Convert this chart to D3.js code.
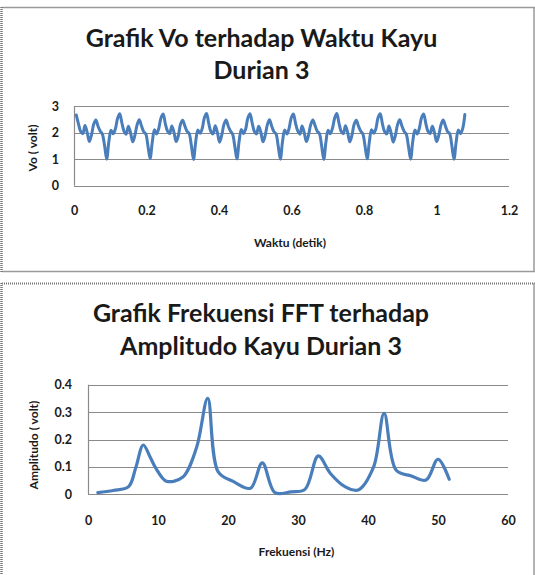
<!DOCTYPE html>
<html>
<head>
<meta charset="utf-8">
<script src="https://cdn.jsdelivr.net/npm/d3@7"></script>
<style>
  html, body { margin: 0; padding: 0; background: #fff; }
  svg { display: block; }
  text { font-family: Lato, "Open Sans", sans-serif; font-weight: bold; fill: #1a1a1a; }
</style>
</head>
<body>
<svg id="chart" width="535" height="575"></svg>
<script>
// ---------- Chart 1 data: Vo vs time ----------
const voStartTime = 0.00637;      // s, time of the first sample
const voSampleInterval = 0.005988; // s, spacing of samples
const voValues = [
  2.66, 2.33, 2.04, 1.96, 2.27, 2.01, 1.66, 1.91, 2.31, 2.47, 2.24, 2.06, 1.94, 1.52,
  1.00, 1.66, 2.09, 1.96, 2.14, 2.53, 2.71, 2.36, 2.05, 1.94, 2.24, 1.99, 1.65, 1.90, 2.29, 2.48, 2.26, 2.04, 1.95, 1.50,
  1.02, 1.64, 2.11, 1.95, 2.16, 2.55, 2.70, 2.34, 2.06, 1.96, 2.25, 2.01, 1.66, 1.88, 2.31, 2.46, 2.25, 2.05, 1.96, 1.51,
  0.99, 1.65, 2.10, 1.97, 2.15, 2.56, 2.72, 2.35, 2.04, 1.95, 2.26, 2.00, 1.64, 1.90, 2.30, 2.47, 2.24, 2.06, 1.94, 1.49,
  1.01, 1.67, 2.12, 1.96, 2.13, 2.54, 2.71, 2.37, 2.05, 1.95, 2.24, 2.02, 1.65, 1.89, 2.29, 2.48, 2.25, 2.04, 1.95, 1.50,
  1.00, 1.66, 2.10, 1.95, 2.15, 2.55, 2.70, 2.35, 2.06, 1.94, 2.25, 2.00, 1.66, 1.91, 2.30, 2.47, 2.26, 2.05, 1.96, 1.51,
  0.99, 1.64, 2.09, 1.96, 2.16, 2.54, 2.72, 2.36, 2.05, 1.96, 2.26, 2.01, 1.65, 1.90, 2.31, 2.46, 2.24, 2.06, 1.95, 1.50,
  1.01, 1.65, 2.11, 1.97, 2.14, 2.56, 2.71, 2.34, 2.04, 1.95, 2.25, 1.99, 1.64, 1.89, 2.30, 2.48, 2.25, 2.05, 1.94, 1.49,
  1.00, 1.66, 2.10, 1.95, 2.15, 2.55, 2.70, 2.35, 2.05, 1.96, 2.24, 2.00, 1.66, 1.90, 2.29, 2.47, 2.26, 2.04, 1.96, 1.51,
  1.00, 1.65, 2.10, 1.96, 2.15, 2.68
];
const voXTicks = [0, 0.2, 0.4, 0.6, 0.8, 1, 1.2];
const voYTicks = [0, 1, 2, 3];
const voTitleLines = ["Grafik Vo terhadap Waktu Kayu", "Durian 3"];
const voXLabel = "Waktu  (detik)";
const voYLabel = "Vo ( volt)";

// ---------- Chart 2 data: FFT amplitude vs frequency ----------
const fftFreq = [1.4, 3.6, 5.8, 6.8, 7.9, 8.8, 9.7, 11.2, 13.5, 15.5, 17.1, 18.6, 20.8, 23.2, 24.9, 26.7, 29.0, 31.0, 32.9, 34.6, 36.7, 38.6, 40.8, 42.3, 44.0, 46.2, 48.3, 50.0, 51.6];
const fftAmp  = [0.006, 0.014, 0.028, 0.095, 0.18, 0.14, 0.095, 0.048, 0.062, 0.17, 0.35, 0.082, 0.046, 0.022, 0.115, 0.006, 0.009, 0.018, 0.14, 0.077, 0.028, 0.016, 0.10, 0.295, 0.089, 0.067, 0.052, 0.128, 0.055];
const fftXTicks = [0, 10, 20, 30, 40, 50, 60];
const fftYTicks = [0, 0.1, 0.2, 0.3, 0.4];
const fftTitleLines = ["Grafik Frekuensi FFT terhadap", "Amplitudo Kayu Durian 3"];
const fftXLabel = "Frekuensi (Hz)";
const fftYLabel = "Amplitudo ( volt)";

const svg = d3.select("#chart");
const lineColor = "#4a7ebb";
const gridColor = "#8a8a8a";
const frameColor = "#9a9a9a";

// ---------- frames ----------
function hline(x1, x2, y, dotted) {
  svg.append("line").attr("x1", x1).attr("x2", x2).attr("y1", y).attr("y2", y)
    .attr("stroke", dotted ? "#777" : frameColor).attr("stroke-width", dotted ? 2 : 1.5)
    .attr("stroke-dasharray", dotted ? "1,1" : null);
}
function vline(x, y1, y2, dotted) {
  svg.append("line").attr("x1", x).attr("x2", x).attr("y1", y1).attr("y2", y2)
    .attr("stroke", dotted ? "#777" : frameColor).attr("stroke-width", dotted ? 2.5 : 1.5)
    .attr("stroke-dasharray", dotted ? "1,1" : null);
}
hline(2, 535, 7.5, false);
hline(2, 535, 271.5, false);
vline(534, 7, 272, false);
vline(1.5, 7, 272, true);
hline(2, 535, 283.5, true);
vline(534, 283, 575, false);
vline(1.5, 283, 575, true);

function drawChart(cfg) {
  const g = svg.append("g");
  const x = d3.scaleLinear().domain(cfg.xDomain).range(cfg.xRange);
  const y = d3.scaleLinear().domain(cfg.yDomain).range(cfg.yRange);

  // gridlines
  g.selectAll(".grid").data(cfg.yTicks).join("line")
    .attr("x1", cfg.xRange[0]).attr("x2", cfg.xRange[1])
    .attr("y1", d => Math.round(y(d)) + 0.5).attr("y2", d => Math.round(y(d)) + 0.5)
    .attr("stroke", gridColor).attr("stroke-width", 1.2);
  // vertical axis line
  g.append("line")
    .attr("x1", Math.round(cfg.xRange[0]) + 0.5).attr("x2", Math.round(cfg.xRange[0]) + 0.5)
    .attr("y1", cfg.yRange[0]).attr("y2", cfg.yRange[1])
    .attr("stroke", gridColor).attr("stroke-width", 1.2);

  // axes (labels only)
  const xAxis = d3.axisBottom(x).tickValues(cfg.xTicks).tickSize(0).tickPadding(0).tickFormat(d => String(d));
  const xa = g.append("g").attr("transform", `translate(0,${cfg.xTickY})`).call(xAxis);
  xa.select(".domain").remove();
  xa.selectAll("text").attr("font-size", cfg.tickSize).attr("dy", "0.35em").attr("y", 0)
    .style("font-family", "Lato, sans-serif").style("font-weight", "bold").attr("fill", "#1a1a1a");

  const yAxis = d3.axisLeft(y).tickValues(cfg.yTicks).tickSize(0).tickPadding(0).tickFormat(d => String(d));
  const ya = g.append("g").attr("transform", `translate(${cfg.yTickX},0)`).call(yAxis);
  ya.select(".domain").remove();
  ya.selectAll("text").attr("font-size", cfg.tickSize).attr("x", 0)
    .style("font-family", "Lato, sans-serif").style("font-weight", "bold").attr("fill", "#1a1a1a");

  // titles
  cfg.title.forEach((t, i) => {
    g.append("text").attr("x", cfg.titleX).attr("y", cfg.titleY[i])
      .attr("text-anchor", "middle").attr("font-size", cfg.titleSize).text(t);
  });
  g.append("text").attr("x", cfg.xLabelPos[0]).attr("y", cfg.xLabelPos[1])
    .attr("text-anchor", "middle").attr("dy", "0.35em").attr("font-size", cfg.labelSize).text(cfg.xLabel);
  g.append("text").attr("transform", `translate(${cfg.yLabelPos[0]},${cfg.yLabelPos[1]}) rotate(-90)`)
    .attr("text-anchor", "middle").attr("dy", "0.35em").attr("font-size", cfg.labelSize).text(cfg.yLabel);

  // line
  const line = d3.line().x(d => x(d[0])).y(d => y(d[1])).curve(d3.curveCatmullRom.alpha(0.5));
  g.append("path").datum(cfg.points).attr("d", line)
    .attr("fill", "none").attr("stroke", lineColor).attr("stroke-width", cfg.lineWidth)
    .attr("stroke-linejoin", "round").attr("stroke-linecap", "round");
}

drawChart({
  points: voValues.map((v, i) => [voStartTime + i * voSampleInterval, v]),
  xDomain: [0, 1.2], xRange: [74, 509],
  yDomain: [0, 3], yRange: [185.7, 106],
  xTicks: voXTicks, yTicks: voYTicks,
  xTickY: 211, yTickX: 59, tickSize: 12.5,
  title: voTitleLines, titleX: 261.5, titleY: [47, 79], titleSize: 25,
  xLabel: voXLabel, xLabelPos: [290, 243],
  yLabel: voYLabel, yLabelPos: [33, 148], labelSize: 12,
  lineWidth: 3
});

drawChart({
  points: fftFreq.map((f, i) => [f, fftAmp[i]]),
  xDomain: [0, 60], xRange: [88, 508],
  yDomain: [0, 0.4], yRange: [494.3, 384.7],
  xTicks: fftXTicks, yTicks: fftYTicks,
  xTickY: 521, yTickX: 72, tickSize: 12.5,
  title: fftTitleLines, titleX: 261, titleY: [322, 355], titleSize: 25,
  xLabel: fftXLabel, xLabelPos: [296.5, 551.5],
  yLabel: fftYLabel, yLabelPos: [34, 445], labelSize: 12,
  lineWidth: 3.2
});
</script>
</body>
</html>
